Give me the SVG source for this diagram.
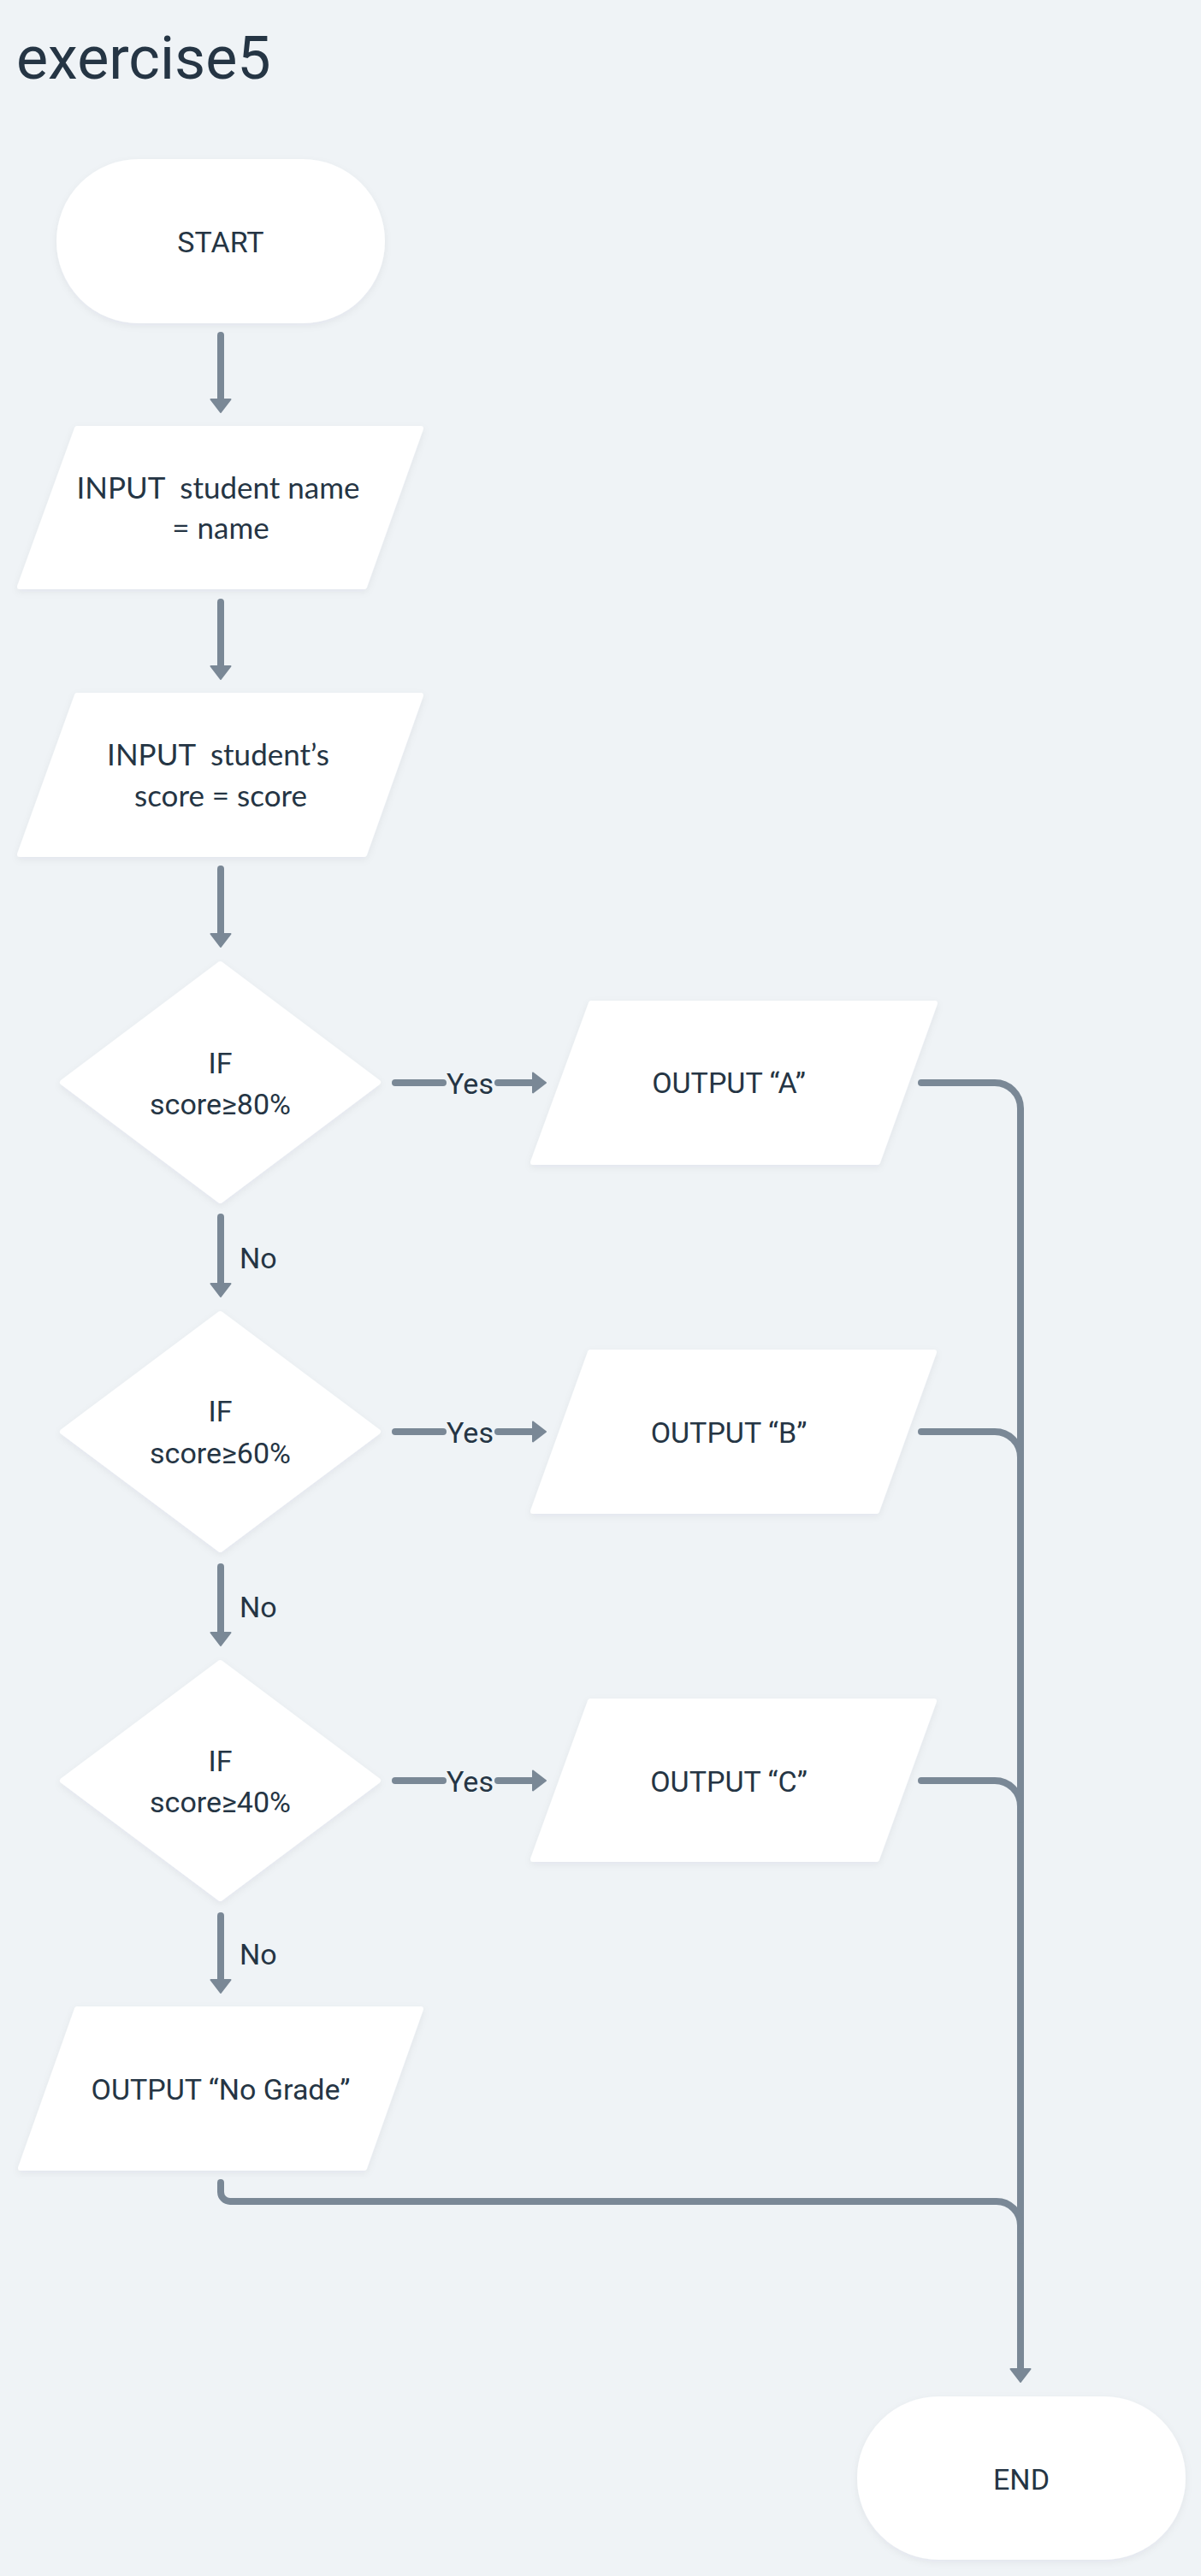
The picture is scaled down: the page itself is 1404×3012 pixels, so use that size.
<svg xmlns="http://www.w3.org/2000/svg" width="1404" height="3012" viewBox="0 0 1404 3012">
<defs>
<style>
.bg{fill:#eff3f6}
.node{fill:#ffffff;stroke:#ffffff;stroke-width:6;stroke-linejoin:round;filter:url(#sh)}
.t{font-family:Roboto,"Liberation Sans",sans-serif;font-size:34px;fill:#253544;text-anchor:middle}
.ti{font-family:Lato,"Open Sans","Liberation Sans",sans-serif;font-size:35px;fill:#253544;text-anchor:middle}
.lbl{font-family:Roboto,"Liberation Sans",sans-serif;font-size:34px;fill:#253544}
.title{font-family:Roboto,"Liberation Sans",sans-serif;font-size:70px;fill:#253544}
.c{fill:none;stroke:#7a8896;stroke-width:8;stroke-linecap:round;stroke-linejoin:round}
.ca{fill:none;stroke:#7a8896;stroke-width:8;stroke-linecap:round;stroke-linejoin:round;marker-end:url(#ah)}
</style>
<filter id="sh" x="-10%" y="-10%" width="120%" height="130%">
<feDropShadow dx="0" dy="3" stdDeviation="4" flood-color="#1c2b3a" flood-opacity="0.06"/>
</filter>
<marker id="ah" viewBox="0 0 17 26" refX="1" refY="13" markerWidth="17" markerHeight="26" markerUnits="userSpaceOnUse" orient="auto">
<path d="M1,1.5 L16,13 L1,24.5 Z" fill="#7a8896" stroke="#7a8896" stroke-width="2" stroke-linejoin="round"/>
</marker>
</defs>
<rect class="bg" x="0" y="0" width="1404" height="3012"/>
<text class="title" x="19" y="92">exercise5</text>

<g id="connectors">
<path class="ca" d="M258,392 V467"/>
<path class="ca" d="M258,704 V779"/>
<path class="ca" d="M258,1016 V1092"/>
<path class="ca" d="M258,1423 V1501"/>
<path class="ca" d="M258,1832 V1909"/>
<path class="ca" d="M258,2240 V2315"/>
<path class="c" d="M462,1266 H518"/>
<path class="ca" d="M582,1266 H623"/>
<path class="c" d="M462,1674 H518"/>
<path class="ca" d="M582,1674 H623"/>
<path class="c" d="M462,2082 H518"/>
<path class="ca" d="M582,2082 H623"/>
<path class="ca" d="M1077,1266 H1163 A30,30 0 0 1 1193,1296 V2770"/>
<path class="c" d="M1077,1674 H1163 A30,30 0 0 1 1193,1704 V1720"/>
<path class="c" d="M1077,2082 H1163 A30,30 0 0 1 1193,2112 V2128"/>
<path class="c" d="M258,2552 V2563 A11,11 0 0 0 269,2574 H1165 A28,28 0 0 1 1193,2602 V2620"/>
<text class="lbl" x="280" y="1483">No</text>
<text class="lbl" x="280" y="1891">No</text>
<text class="lbl" x="280" y="2297">No</text>
<text class="t" x="549.5" y="1279">Yes</text>
<text class="t" x="549.5" y="1687">Yes</text>
<text class="t" x="549.5" y="2095">Yes</text>
</g>

<g id="start">
<rect class="node" x="69" y="189" width="378" height="186" rx="93"/>
<text class="t" x="258" y="295">START</text>
</g>

<g id="input-name">
<polygon class="node" points="90,501 492,501 426,686 23,686"/>
<text class="ti" xml:space="preserve" x="255" y="583">INPUT  student name</text>
<text class="ti" x="258" y="630">= name</text>
</g>

<g id="input-score">
<polygon class="node" points="90,813 492,813 426,999 23,999"/>
<text class="ti" xml:space="preserve" x="255" y="895">INPUT  student’s</text>
<text class="ti" x="258" y="943">score = score</text>
</g>

<g id="if80">
<polygon class="node" points="257.5,1127 442,1265.5 257.5,1404 73,1265.5"/>
<text class="t" x="257.5" y="1255">IF</text>
<text class="t" x="257.5" y="1303">score≥80%</text>
</g>

<g id="outA">
<polygon class="node" points="691,1173 1093,1173 1026,1359 623,1359"/>
<text class="t" x="852" y="1278">OUTPUT “A”</text>
</g>

<g id="if60">
<polygon class="node" points="257.5,1536 442,1674 257.5,1812 73,1674"/>
<text class="t" x="257.5" y="1662">IF</text>
<text class="t" x="257.5" y="1711">score≥60%</text>
</g>

<g id="outB">
<polygon class="node" points="690,1581 1092,1581 1025,1767 623,1767"/>
<text class="t" x="852" y="1687">OUTPUT “B”</text>
</g>

<g id="if40">
<polygon class="node" points="257.5,1944 442,2082 257.5,2220 73,2082"/>
<text class="t" x="257.5" y="2071">IF</text>
<text class="t" x="257.5" y="2119">score≥40%</text>
</g>

<g id="outC">
<polygon class="node" points="690,1989 1092,1989 1025,2174 623,2174"/>
<text class="t" x="852" y="2095">OUTPUT “C”</text>
</g>

<g id="outNoGrade">
<polygon class="node" points="90,2349 492,2349 426,2535 24,2535"/>
<text class="t" x="258" y="2455">OUTPUT “No Grade”</text>
</g>

<g id="end">
<rect class="node" x="1005" y="2805" width="378" height="185" rx="92.5"/>
<text class="t" x="1194" y="2911">END</text>
</g>
</svg>
